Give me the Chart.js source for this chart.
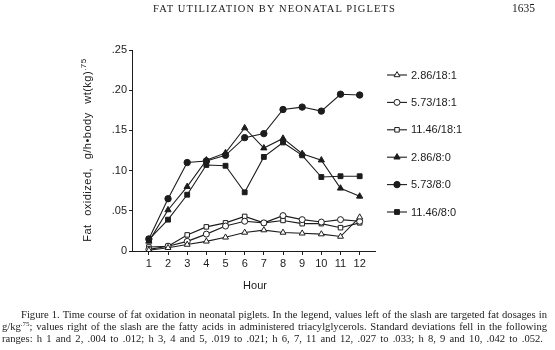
<!DOCTYPE html>
<html>
<head>
<meta charset="utf-8">
<script src="https://cdn.jsdelivr.net/npm/chart.js@4.4.1/dist/chart.umd.min.js"></script>
<style>
  html, body { margin: 0; padding: 0; background: #fff; }
  #wrap { position: relative; width: 555px; height: 350px; overflow: hidden; }
  canvas { position: absolute; left: 0; top: 0; }
  .serif { font-family: "Liberation Serif", "Times New Roman", serif; color: #1a1a1a; }
  .sans { font-family: "Liberation Sans", Arial, sans-serif; color: #1a1a1a; }
  #runhead { position: absolute; left: 153px; top: 3px; font-size: 10.5px; letter-spacing: 1.1px; white-space: nowrap; }
  #pageno { position: absolute; left: 512px; top: 2px; font-size: 11.5px; }
  #ytitle { position: absolute; left: -26px; top: 143px; width: 220px; height: 14px; line-height: 14px;
            text-align: center; font-size: 11px; letter-spacing: 0.5px; word-spacing: 5px; transform: rotate(-90deg); white-space: nowrap; }
  #ytitle sup { font-size: 8px; vertical-align: 5px; }
  #xtitle { position: absolute; left: 230px; top: 279px; width: 50px; text-align: center; font-size: 11px; }
  .cap { position: absolute; font-size: 10.6px; line-height: 12px; white-space: nowrap; text-align: justify; text-align-last: justify; }
  .cap sup { font-size: 7px; vertical-align: 4px; line-height: 0; }
</style>
</head>
<body>
<div id="wrap">
  <canvas id="c" width="555" height="350"></canvas>
  <div id="runhead" class="serif">FAT UTILIZATION BY NEONATAL PIGLETS</div>
  <div id="pageno" class="serif">1635</div>
  <div id="ytitle" class="sans">Fat oxidized, g/h&#8226;body wt(kg)<sup>.75</sup></div>
  <div id="xtitle" class="sans">Hour</div>
  <div class="cap serif" style="left:21px; top:309px; width:526px;">Figure 1. Time course of fat oxidation in neonatal piglets. In the legend, values left of the slash are targeted fat dosages in</div>
  <div class="cap serif" style="left:2px; top:321px; width:545px;">g/kg<sup>.75</sup>; values right of the slash are the fatty acids in administered triacylglycerols. Standard deviations fell in the following</div>
  <div class="cap serif" style="left:2px; top:333px; width:541px;">ranges: h 1 and 2, .004 to .012; h 3, 4 and 5, .019 to .021; h 6, 7, 11 and 12, .027 to .033; h 8, 9 and 10, .042 to .052.</div>
</div>
<script>
// Sampling hours
const hours = [1, 2, 3, 4, 5, 6, 7, 8, 9, 10, 11, 12];

// Fat oxidized, g/h per kg^.75, by dosage / fatty acid
const oleic286 = [0.001, 0.004, 0.008, 0.012, 0.017, 0.023, 0.026, 0.023, 0.022, 0.021, 0.018, 0.042];
const oleic573 = [0.002, 0.006, 0.012, 0.021, 0.031, 0.037, 0.035, 0.044, 0.039, 0.036, 0.039, 0.037];
const oleic1146 = [0.005, 0.006, 0.020, 0.030, 0.035, 0.043, 0.035, 0.038, 0.034, 0.034, 0.029, 0.035];
const caprylic286 = [0.012, 0.051, 0.080, 0.113, 0.122, 0.153, 0.128, 0.140, 0.121, 0.113, 0.078, 0.068];
const caprylic573 = [0.015, 0.065, 0.110, 0.112, 0.119, 0.141, 0.146, 0.176, 0.179, 0.174, 0.195, 0.194];
const caprylic1146 = [0.014, 0.039, 0.070, 0.107, 0.106, 0.073, 0.117, 0.135, 0.119, 0.092, 0.093, 0.093];

// Legend labels and y tick labels
const seriesLabels = ['2.86/18:1', '5.73/18:1', '11.46/18:1', '2.86/8:0', '5.73/8:0', '11.46/8:0'];
const yTickValues = [0, 0.05, 0.10, 0.15, 0.20, 0.25];
const yTickLabels = ['0', '.05', '.10', '.15', '.20', '.25'];

const ink = '#1c1c1c';
const seriesValues = [oleic286, oleic573, oleic1146, caprylic286, caprylic573, caprylic1146];
const markers = [
  { style: 'triangle', fill: '#fff', r: 3.4 },
  { style: 'circle', fill: '#fff', r: 3.0 },
  { style: 'rect', fill: '#fff', r: 3.2 },
  { style: 'triangle', fill: ink, r: 3.6 },
  { style: 'circle', fill: ink, r: 3.2 },
  { style: 'rect', fill: ink, r: 3.4 }
];

const datasets = seriesValues.map((vals, i) => ({
  label: seriesLabels[i],
  data: hours.map((h, k) => ({ x: h, y: vals[k] })),
  borderColor: ink,
  borderWidth: 1.1,
  backgroundColor: markers[i].fill,
  pointStyle: markers[i].style,
  pointRadius: markers[i].r,
  pointBorderColor: ink,
  pointBackgroundColor: markers[i].fill,
  pointBorderWidth: 1,
  tension: 0
}));

// Legend at the right: short line with the series marker, then the label
const sideLegend = {
  id: 'sideLegend',
  afterDraw(chart) {
    const ctx = chart.ctx;
    ctx.save();
    chart.data.datasets.forEach((ds, i) => {
      const y = 75 + i * 27.4;
      ctx.strokeStyle = ink;
      ctx.lineWidth = 1.1;
      ctx.beginPath();
      ctx.moveTo(387, y);
      ctx.lineTo(407, y);
      ctx.stroke();
      ctx.lineWidth = 1;
      ctx.fillStyle = ds.pointBackgroundColor;
      ctx.strokeStyle = ink;
      Chart.helpers.drawPoint(ctx, {
        pointStyle: ds.pointStyle, radius: ds.pointRadius, rotation: 0, borderWidth: 1
      }, 397, y);
      ctx.fillStyle = ink;
      ctx.font = '11px "Liberation Sans", Arial, sans-serif';
      ctx.textBaseline = 'middle';
      ctx.textAlign = 'left';
      ctx.fillText(ds.label, 411, y + 0.5);
    });
    ctx.restore();
  }
};

new Chart(document.getElementById('c'), {
  type: 'line',
  data: { datasets },
  options: {
    responsive: false,
    animation: false,
    layout: { padding: { left: 0, right: 180, top: 50, bottom: 79 } },
    plugins: { legend: { display: false }, tooltip: { enabled: false } },
    scales: {
      x: {
        type: 'linear',
        min: 0.12,
        max: 12.8,
        afterFit(scale) { scale.height = 20; },
        afterBuildTicks(scale) { scale.ticks = hours.map(h => ({ value: h })); },
        ticks: {
          color: ink,
          font: { family: '"Liberation Sans", Arial, sans-serif', size: 11 },
          padding: 2,
          maxRotation: 0,
          autoSkip: false
        },
        grid: { drawOnChartArea: false, drawTicks: true, tickLength: 4, color: ink },
        border: { display: true, color: ink, width: 1 }
      },
      y: {
        min: 0,
        max: 0.25,
        afterFit(scale) { scale.width = 132; },
        afterBuildTicks(scale) { scale.ticks = yTickValues.map(v => ({ value: v })); },
        ticks: {
          color: ink,
          font: { family: '"Liberation Sans", Arial, sans-serif', size: 11 },
          padding: 2,
          callback(value) {
            const k = yTickValues.findIndex(v => Math.abs(v - value) < 1e-9);
            return k >= 0 ? yTickLabels[k] : '';
          }
        },
        grid: { drawOnChartArea: false, drawTicks: true, tickLength: 3, color: ink },
        border: { display: true, color: ink, width: 1 }
      }
    }
  },
  plugins: [sideLegend]
});
</script>
</body>
</html>
